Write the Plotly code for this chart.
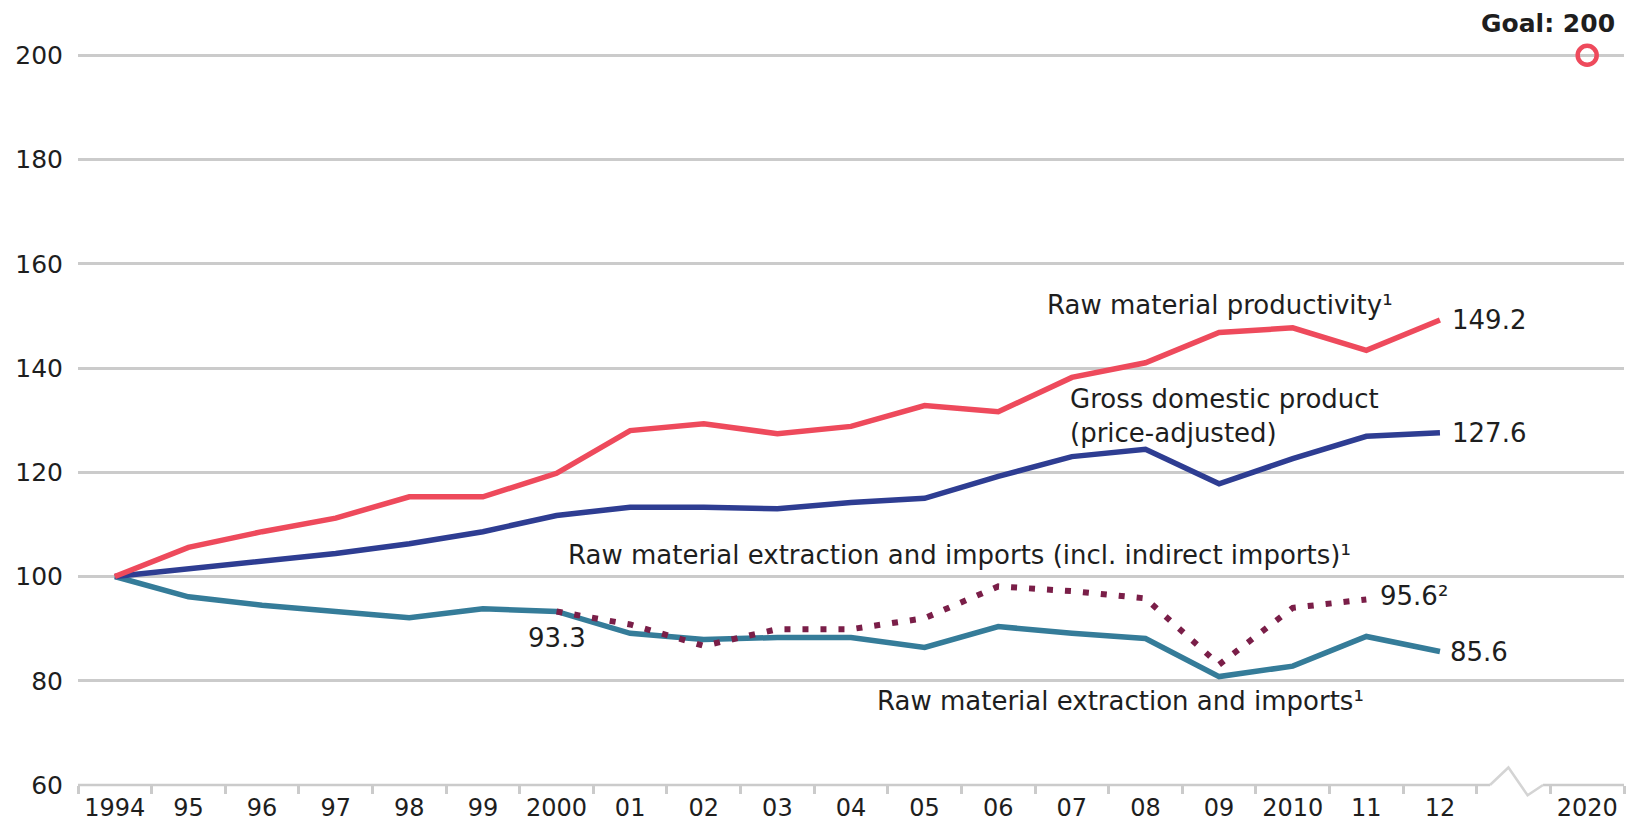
import plotly.graph_objects as go

# ---- data ----
years = list(range(1994, 2013))
tick_years = list(range(1994, 2013)) + [2020]
tick_labels = ["1994", "95", "96", "97", "98", "99", "2000", "01", "02", "03", "04",
               "05", "06", "07", "08", "09", "2010", "11", "12", "2020"]
productivity = [100, 105.6, 108.6, 111.2, 115.3, 115.3, 119.8, 128.0, 129.3, 127.4,
                128.8, 132.8, 131.6, 138.2, 141.0, 146.8, 147.7, 143.4, 149.2]
gdp = [100, 101.4, 102.8, 104.4, 106.3, 108.6, 111.7, 113.3, 113.3, 113.0,
       114.2, 115.0, 119.2, 123.0, 124.4, 117.8, 122.6, 126.9, 127.6]
extraction = [100, 96.1, 94.5, 93.2, 92.1, 93.8, 93.3, 89.1, 87.9, 88.3,
              88.3, 86.4, 90.4, 89.1, 88.1, 80.8, 82.8, 88.5, 85.6]
indirect_years = list(range(2000, 2012))
indirect = [93.3, 90.8, 86.7, 89.9, 89.9, 92.0, 98.1, 97.2, 95.8, 83.1, 94.0, 95.6]
goal_year = 2020
goal_value = 200
y_ticks = [60, 80, 100, 120, 140, 160, 180, 200]


# broken axis: 2013-2019 collapsed into a single blank slot
def pos(year):
    return year - 1994 if year <= 2012 else year - 1994 - 6


RED = "#ee4a5c"
BLUE = "#2e3d92"
TEAL = "#357c99"
MAROON = "#7a1e48"
GRID = "#cbcbcb"
TXT = "#1e1e1e"
FONT = "DejaVu Sans"

fig = go.Figure()
fig.add_trace(go.Scatter(x=[pos(y) for y in years], y=extraction, mode="lines",
                         line=dict(color=TEAL, width=5.5), hoverinfo="skip"))
fig.add_trace(go.Scatter(x=[pos(y) for y in indirect_years], y=indirect, mode="lines",
                         line=dict(color=MAROON, width=6, dash="6px,12px"), hoverinfo="skip"))
fig.add_trace(go.Scatter(x=[pos(y) for y in years], y=gdp, mode="lines",
                         line=dict(color=BLUE, width=5.5), hoverinfo="skip"))
fig.add_trace(go.Scatter(x=[pos(y) for y in years], y=productivity, mode="lines",
                         line=dict(color=RED, width=5.5), hoverinfo="skip"))
fig.add_trace(go.Scatter(x=[pos(goal_year)], y=[goal_value], mode="markers",
                         marker=dict(symbol="circle-open", size=19, color=RED,
                                     line=dict(width=4.5, color=RED)),
                         hoverinfo="skip", cliponaxis=False))

# x axis line with a break (zigzag) in the blank slot
bx0, bx1 = pos(2012) + 0.68, pos(2012) + 1.40
fig.add_shape(type="line", xref="x", yref="paper", x0=-0.5, x1=bx0, y0=0, y1=0,
              line=dict(color=GRID, width=2.5), layer="above")
fig.add_shape(type="line", xref="x", yref="paper", x0=bx1, x1=20.5, y0=0, y1=0,
              line=dict(color=GRID, width=2.5), layer="above")
zig = (f"M {bx0},0 L {bx0 + 0.25},0.023 L {bx0 + 0.51},-0.0135 L {bx1},0.0")
fig.add_shape(type="path", xref="x", yref="paper", path=zig,
              line=dict(color="#d4d4d4", width=2.5), layer="above")


def note(x, y, text, xanchor="left", xshift=0, size=26):
    fig.add_annotation(x=x, y=y, text=text, showarrow=False, xanchor=xanchor,
                       yanchor="middle", xshift=xshift, align="left",
                       font=dict(family=FONT, size=size, color=TXT))


note(12.64, 152.1, "Raw material productivity¹")
note(pos(2012), productivity[-1], "149.2", xshift=10)
note(12.95, 130.7, "Gross domestic product<br>(price-adjusted)")
note(pos(2012), gdp[-1], "127.6", xshift=10)
note(6.13, 104.1, "Raw material extraction and imports (incl. indirect imports)¹")
note(pos(2000), 88.2, "93.3", xanchor="center")
note(pos(2011), indirect[-1] + 0.6, "95.6²", xshift=12)
note(pos(2012), extraction[-1], "85.6", xshift=8)
note(10.33, 76.2, "Raw material extraction and imports¹")
fig.add_annotation(x=20.41, y=1, xref="x", yref="paper", text="Goal: 200",
                   showarrow=False, xanchor="right", yanchor="middle", yshift=1,
                   font=dict(family=FONT, size=25, color=TXT, weight="bold"))

fig.update_layout(
    width=1638, height=825,
    margin=dict(l=78, r=14, t=24, b=40, autoexpand=False),
    paper_bgcolor="white", plot_bgcolor="white",
    showlegend=False,
    font=dict(family=FONT, size=25, color=TXT),
    xaxis=dict(range=[-0.5, 20.5], tickmode="array", automargin=False,
               tickvals=[pos(y) for y in tick_years], ticktext=tick_labels,
               ticks="", showgrid=False, showline=False, zeroline=False,
               ticklabelstandoff=6,
               tickfont=dict(family=FONT, size=24, color=TXT),
               minor=dict(tickmode="linear", tick0=-0.5, dtick=1, ticks="outside",
                          ticklen=8, tickwidth=2.5, tickcolor=GRID, showgrid=False)),
    yaxis=dict(range=[60, 206], tickmode="array", tickvals=y_ticks, automargin=False,
               showgrid=True, gridcolor=GRID, gridwidth=2.5, zeroline=False,
               showline=False, ticks="", ticklabelstandoff=14,
               tickfont=dict(family=FONT, size=25, color=TXT)),
)

fig.write_html("out.html", config={"displayModeBar": False},
               post_script="document.body.style.margin='0';")
